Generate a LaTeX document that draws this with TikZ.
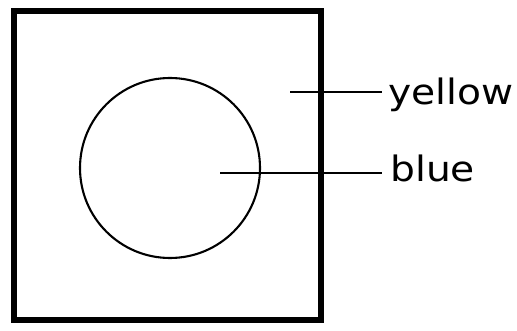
\documentclass[tikz,border=0pt]{standalone}
\usepackage{fontspec}
\setmainfont{DejaVu Sans}
\begin{document}
\begin{tikzpicture}[x=1pt,y=-1pt,
  frame/.style={line width=5.5pt, line join=miter},
  thin/.style={line width=2.1pt},
  label/.style={inner sep=0pt, anchor=base west, font=\fontsize{35}{40}\selectfont, xscale=1.12, transform shape}]
\useasboundingbox (0,0) rectangle (517,331);
\node[draw, frame, minimum width=307pt, minimum height=309pt, inner sep=0pt] (sq) at (167.5,165.5) {};
\node[draw, thin, circle, minimum size=180pt, inner sep=0pt] (disc) at (170,168) {};
\node[label] (ytext) at (388,105) {yellow};
\node[label] (btext) at (390,182) {blue};
\coordinate (yin) at (290,92);
\coordinate (bin) at (220,173);
\draw[thin] (yin) -- ([xshift=-6pt]ytext.west |- yin);
\draw[thin] (bin) -- ([xshift=-8pt]btext.west |- bin);
\end{tikzpicture}
\end{document}
